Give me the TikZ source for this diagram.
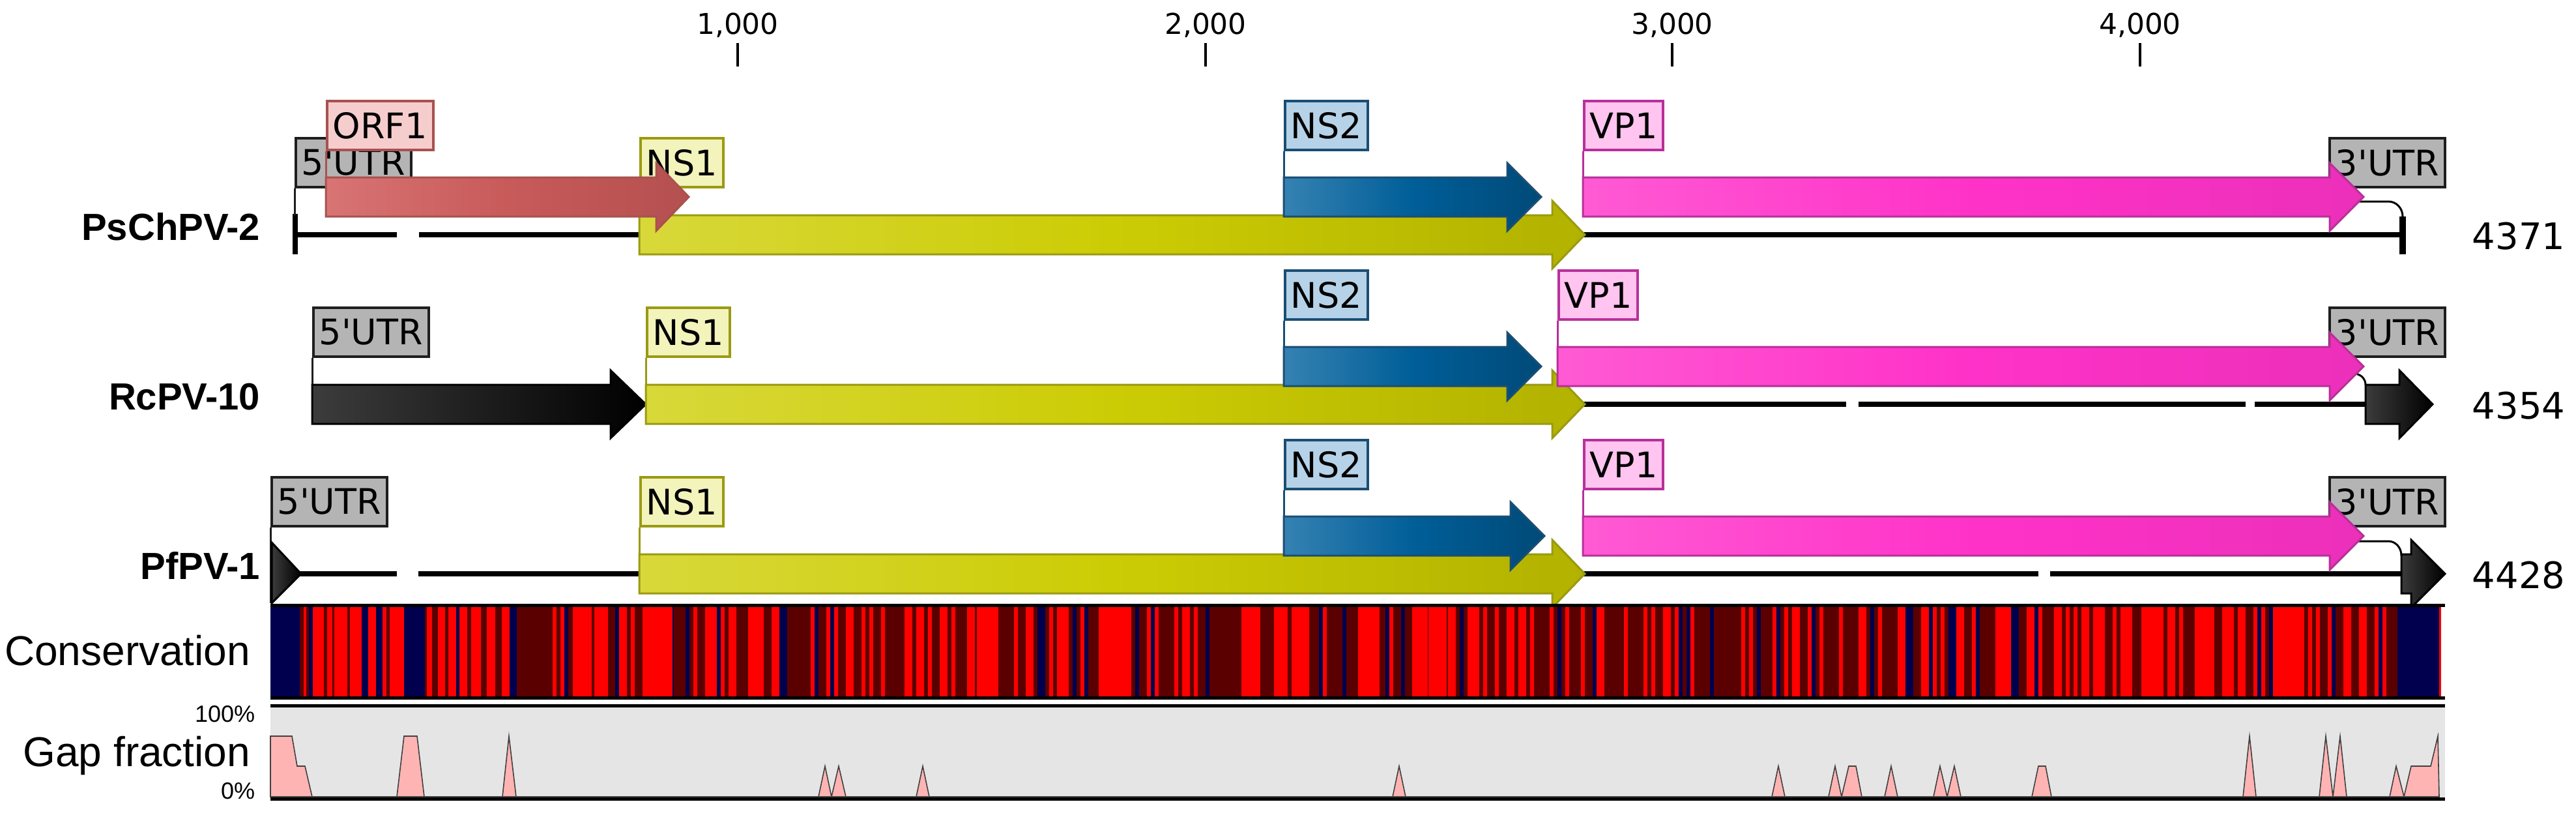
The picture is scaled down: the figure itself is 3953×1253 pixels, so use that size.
\documentclass[tikz,border=0pt]{standalone}
\usepackage{fontspec}
\setmainfont{DejaVu Sans}[Ligatures=TeXOff]
\newfontfamily\namefont{Liberation Sans}[Ligatures=TeXOff]

\newcommand*\px{0.25pt}
\newcommand*\rowA{360}
\newcommand*\rowB{620}
\newcommand*\rowC{880}

\definecolor{utrfill}{HTML}{B4B4B4}
\definecolor{utredge}{HTML}{1E1E1E}
\definecolor{utrleft}{HTML}{3C3C3C}
\definecolor{utrright}{HTML}{000000}
\definecolor{orffill}{HTML}{F6CDCD}
\definecolor{orfedge}{HTML}{A8524F}
\definecolor{orfleft}{HTML}{D87474}
\definecolor{orfmid}{HTML}{C85A5A}
\definecolor{orfright}{HTML}{B55050}
\definecolor{ns1fill}{HTML}{F3F3BC}
\definecolor{ns1edge}{HTML}{9A9A12}
\definecolor{ns1left}{HTML}{D8D83A}
\definecolor{ns1mid}{HTML}{CCCC05}
\definecolor{ns1right}{HTML}{B2B200}
\definecolor{ns2fill}{HTML}{B6D2E8}
\definecolor{ns2edge}{HTML}{1A4E74}
\definecolor{ns2left}{HTML}{3582B2}
\definecolor{ns2mid}{HTML}{005E98}
\definecolor{ns2right}{HTML}{004A78}
\definecolor{vp1fill}{HTML}{FFC4F0}
\definecolor{vp1edge}{HTML}{B8309A}
\definecolor{vp1left}{HTML}{FF5AD4}
\definecolor{vp1mid}{HTML}{FF32C8}
\definecolor{vp1right}{HTML}{EC30BA}
\definecolor{consred}{HTML}{FF0000}
\definecolor{consdark}{HTML}{5A0000}
\definecolor{consblue}{HTML}{00004E}
\definecolor{gapbg}{HTML}{E5E5E5}
\definecolor{gappink}{HTML}{FFB4B4}

\tikzset{
    featlabel/.style 2 args={
        draw=#2,
        fill=#1,
        line width=1pt,
        anchor=south west,
        inner xsep=2.2pt,
        inner ysep=0pt,
        minimum height=75*\px,
        font=\fontsize{13.5}{16}\selectfont
    },
    lead/.style={draw=#1, line width=0.75pt},
    genome/.style={draw=black, line width=2pt},
    frame/.style={draw=black, line width=1.25pt},
    seqname/.style={anchor=base east, inner sep=0pt, font=\namefont\bfseries\fontsize{14.5}{17}\selectfont},
    seqlen/.style={anchor=base west, inner sep=0pt, font=\fontsize{14}{17}\selectfont},
    ticklabel/.style={anchor=base, inner sep=0pt, font=\fontsize{11}{13}\selectfont},
    tracklabel/.style={anchor=base east, inner sep=0pt, font=\namefont\fontsize{16}{19}\selectfont},
    scalelabel/.style={anchor=base east, inner sep=0pt, font=\namefont\fontsize{9}{11}\selectfont},
    utrgene/.style={draw=black, line width=0.75pt, left color=utrleft, right color=utrright},
    orfgene/.style={draw=orfedge, line width=0.75pt, left color=orfleft, right color=orfright, middle color=orfmid},
    ns1gene/.style={draw=ns1edge, line width=0.75pt, left color=ns1left, right color=ns1right, middle color=ns1mid},
    ns2gene/.style={draw=ns2edge, line width=0.75pt, left color=ns2left, right color=ns2right, middle color=ns2mid},
    vp1gene/.style={draw=vp1edge, line width=0.75pt, left color=vp1left, right color=vp1right, middle color=vp1mid},
    gappeak/.style={draw=black!75, line width=0.4pt, fill=gappink}
}

% #1 style, #2 start, #3 head base, #4 tip, #5 centre line
\newcommand*\genearrow[5]{%
    \draw[#1] (#2,#5-30) -- (#3,#5-30) -- (#3,#5-52) -- (#4,#5)
        -- (#3,#5+52) -- (#3,#5+30) -- (#2,#5+30) -- cycle;}

\begin{document}
\begin{tikzpicture}[x=\px,y=-\px]
    \useasboundingbox (0,0) rectangle (3953,1253);

    % Ruler along the top.
    \foreach \pos/\lab in {1132/{1,000},1850/{2,000},2566/{3,000},3284/{4,000}} {
        \node[ticklabel] (tick\pos) at (\pos,52) {\lab};
        \draw[line width=1.2pt] (\pos,66) -- (\pos,102);
    }

    % PsChPV-2
    \coordinate (psup) at (0,\rowA-88);
    \coordinate (pslow) at (0,\rowA-30);
    \coordinate (psend) at (3687,\rowA-28);
    \node[seqname] (psname) at (400,\rowA+8) {PsChPV-2};
    \node[seqlen] (pslen) at (3793,\rowA+22) {4371};
    \draw[genome] (453,\rowA) -- (609,\rowA);
    \draw[genome] (643,\rowA) -- (3687,\rowA);
    \draw[genome] (453,\rowA-32) -- (453,\rowA+30);
    \draw[genome, line width=2.6pt] (psend) -- (3687,\rowA+30);
    \node[featlabel={utrfill}{utredge}] (ps5utr) at (452,\rowA-71) {5'UTR};
    \node[featlabel={ns1fill}{ns1edge}] (psns1) at (981,\rowA-71) {NS1};
    \node[featlabel={utrfill}{utredge}] (ps3utr) at (3573,\rowA-71) {3'UTR};
    \node[featlabel={orffill}{orfedge}] (psorf1) at (500,\rowA-128) {ORF1};
    \node[featlabel={ns2fill}{ns2edge}] (psns2) at (1970,\rowA-128) {NS2};
    \node[featlabel={vp1fill}{vp1edge}] (psvp1) at (2429,\rowA-128) {VP1};
    \draw[lead=utredge] (ps5utr.south west) -- (ps5utr.south west |- pslow);
    \draw[lead=ns1edge] (psns1.south west) -- (psns1.south west |- pslow);
    \draw[lead=orfedge] (psorf1.south west) -- (psorf1.south west |- psup);
    \draw[lead=ns2edge] (psns2.south west) -- (psns2.south west |- psup);
    \draw[lead=vp1edge] (psvp1.south west) -- (psvp1.south west |- psup);
    \draw[lead=black] (ps3utr.south west) |- (3665,\rowA-51) to[out=0,in=90] (psend);
    \genearrow{ns1gene}{981}{2382}{2432}{\rowA}
    \genearrow{orfgene}{500}{1007}{1057}{\rowA-58}
    \genearrow{ns2gene}{1970}{2313}{2365}{\rowA-58}
    \genearrow{vp1gene}{2429}{3575}{3627}{\rowA-58}

    % RcPV-10
    \coordinate (rcup) at (0,\rowB-88);
    \coordinate (rclow) at (0,\rowB-30);
    \coordinate (rcend) at (3630,\rowB-30);
    \node[seqname] (rcname) at (400,\rowB+8) {RcPV-10};
    \node[seqlen] (rclen) at (3793,\rowB+22) {4354};
    \draw[genome] (479,\rowB) -- (2833,\rowB);
    \draw[genome] (2852,\rowB) -- (3446,\rowB);
    \draw[genome] (3460,\rowB) -- (3630,\rowB);
    \node[featlabel={utrfill}{utredge}] (rc5utr) at (479,\rowB-71) {5'UTR};
    \node[featlabel={ns1fill}{ns1edge}] (rcns1) at (991,\rowB-71) {NS1};
    \node[featlabel={utrfill}{utredge}] (rc3utr) at (3573,\rowB-71) {3'UTR};
    \node[featlabel={ns2fill}{ns2edge}] (rcns2) at (1970,\rowB-128) {NS2};
    \node[featlabel={vp1fill}{vp1edge}] (rcvp1) at (2390,\rowB-128) {VP1};
    \draw[lead=utredge] (rc5utr.south west) -- (rc5utr.south west |- rclow);
    \draw[lead=ns1edge] (rcns1.south west) -- (rcns1.south west |- rclow);
    \draw[lead=ns2edge] (rcns2.south west) -- (rcns2.south west |- rcup);
    \draw[lead=vp1edge] (rcvp1.south west) -- (rcvp1.south west |- rcup);
    \draw[lead=black] (rc3utr.south west) |- (3612,\rowB-47) to[out=0,in=90] (rcend);
    \genearrow{utrgene}{479}{937}{991}{\rowB}
    \genearrow{ns1gene}{991}{2382}{2432}{\rowB}
    \genearrow{utrgene}{3630}{3682}{3733}{\rowB}
    \genearrow{ns2gene}{1970}{2313}{2365}{\rowB-58}
    \genearrow{vp1gene}{2390}{3575}{3627}{\rowB-58}

    % PfPV-1
    \coordinate (pfup) at (0,\rowC-88);
    \coordinate (pflow) at (0,\rowC-30);
    \coordinate (pfbase) at (0,\rowC+45);
    \coordinate (pfend) at (3685,\rowC-28);
    \node[seqname] (pfname) at (400,\rowC+8) {PfPV-1};
    \node[seqlen] (pflen) at (3793,\rowC+22) {4428};
    \draw[genome] (417,\rowC) -- (609,\rowC);
    \draw[genome] (642,\rowC) -- (3128,\rowC);
    \draw[genome] (3146,\rowC) -- (3685,\rowC);
    \node[featlabel={utrfill}{utredge}] (pf5utr) at (415,\rowC-71) {5'UTR};
    \node[featlabel={ns1fill}{ns1edge}] (pfns1) at (981,\rowC-71) {NS1};
    \node[featlabel={utrfill}{utredge}] (pf3utr) at (3573,\rowC-71) {3'UTR};
    \node[featlabel={ns2fill}{ns2edge}] (pfns2) at (1970,\rowC-128) {NS2};
    \node[featlabel={vp1fill}{vp1edge}] (pfvp1) at (2429,\rowC-128) {VP1};
    \draw[lead=utredge] (pf5utr.south west) -- (pf5utr.south west |- pfbase);
    \draw[lead=ns1edge] (pfns1.south west) -- (pfns1.south west |- pflow);
    \draw[lead=ns2edge] (pfns2.south west) -- (pfns2.south west |- pfup);
    \draw[lead=vp1edge] (pfvp1.south west) -- (pfvp1.south west |- pfup);
    \draw[lead=black] (pf3utr.south west) |- (3665,\rowC-50) to[out=0,in=90] (pfend);
    \draw[utrgene] (417,\rowC-48) -- (462,\rowC) -- (417,\rowC+45) -- cycle;
    \genearrow{ns1gene}{981}{2382}{2432}{\rowC}
    \genearrow{utrgene}{3685}{3700}{3752}{\rowC}
    \genearrow{ns2gene}{1970}{2318}{2370}{\rowC-58}
    \genearrow{vp1gene}{2429}{3575}{3627}{\rowC-58}

    % Conservation track.
    \node[tracklabel] (conslab) at (385,1020) {Conservation};
    \foreach \xa/\xb/\cl in {415/460/consblue,460/466/consdark,466/470/consred,
        470/474/consdark,474/480/consblue,480/497/consred,497/502/consdark,
        502/510/consred,510/513/consdark,513/533/consred,533/537/consdark,
        537/555/consred,555/565/consblue,565/577/consred,577/587/consblue,
        587/593/consred,593/598/consdark,598/620/consred,620/652/consblue,
        652/655/consdark,655/663/consred,663/672/consdark,672/683/consred,
        683/688/consdark,688/700/consred,700/705/consblue,705/717/consred,
        717/723/consdark,723/738/consred,738/747/consdark,747/760/consred,
        760/770/consdark,770/782/consred,782/793/consblue,793/830/consdark}
        \fill[\cl] (\xa,928) rectangle (\xb,1070);
    \pgfmathsetseed{4371}
    \foreach \i in {0,...,485} {
        \pgfmathsetmacro\xa{830+6*\i}
        \pgfmathrandominteger{\cc}{1}{20}
        \ifnum\cc<8 \def\cl{consred}\else\ifnum\cc<19 \def\cl{consdark}\else\def\cl{consblue}\fi\fi
        \fill[\cl] (\xa,928) rectangle ++(6,142);
    }
    \foreach \xa/\xb/\cl in {879/905/consred,912/933/consred,995/1032/consred,
        1499/1532/consred,1686/1731/consred,1905/1930/consred,1955/1976/consred,
        1988/2009/consred,2084/2117/consred,2167/2191/consred,2195/2220/consred,
        3286/3320/consred,3368/3398/consred,3493/3528/consred,3679/3743/consblue}
        \fill[\cl] (\xa,928) rectangle (\xb,1070);
    \draw[frame] (415,928) -- (3752,928);
    \draw[frame] (415,1070) -- (3752,1070);

    % Gap fraction track.
    \node[tracklabel] (gaplab) at (385,1175) {Gap fraction};
    \node[scalelabel] (gaptop) at (392,1107) {100\%};
    \node[scalelabel] (gapbot) at (392,1225) {0\%};
    \fill[gapbg] (415,1082) rectangle (3752,1225);
    \draw[gappeak] (415,1222) -- (415,1129) -- (448,1129) -- (456,1175) -- (468,1175) -- (479,1222)
        -- (609,1222) -- (620,1129) -- (640,1129) -- (651,1222)
        -- (771,1222) -- (781,1129) -- (792,1222)
        -- (1256,1222) -- (1266,1175) -- (1276,1222) -- (1287,1175) -- (1298,1222)
        -- (1406,1222) -- (1416,1175) -- (1426,1222)
        -- (2137,1222) -- (2147,1175) -- (2157,1222)
        -- (2719,1222) -- (2729,1175) -- (2739,1222)
        -- (2806,1222) -- (2816,1175) -- (2826,1222) -- (2837,1175) -- (2848,1175) -- (2857,1222)
        -- (2892,1222) -- (2902,1175) -- (2912,1222)
        -- (2967,1222) -- (2977,1175) -- (2988,1222) -- (2999,1175) -- (3009,1222)
        -- (3118,1222) -- (3128,1175) -- (3139,1175) -- (3148,1222)
        -- (3442,1222) -- (3452,1129) -- (3462,1222)
        -- (3559,1222) -- (3569,1129) -- (3580,1222) -- (3591,1129) -- (3601,1222)
        -- (3667,1222) -- (3677,1175) -- (3689,1222) -- (3700,1175) -- (3730,1175)
        -- (3741,1129) -- (3743,1222) -- cycle;
    \draw[frame] (415,1082) -- (3752,1082);
    \draw[frame] (415,1225) -- (3752,1225);

\end{tikzpicture}
\end{document}
